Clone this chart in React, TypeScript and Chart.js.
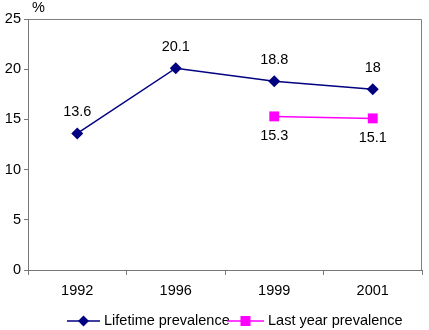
import React, { useEffect, useRef } from "react";
import { Chart, registerables } from "chart.js";

Chart.register(...registerables);

const categories = ["1992", "1996", "1999", "2001"];
const lifetime = [13.6, 20.1, 18.8, 18];
const lastYear = [null, null, 15.3, 15.1];
const seriesNames = ["Lifetime prevalence", "Last year prevalence"];
const yTicks = [0, 5, 10, 15, 20, 25];

const FONT = "Arial, 'Liberation Sans', sans-serif";
const FS = 14.5;
const NAVY = "#000080";
const MAGENTA = "#FF00FF";
const AXIS = "#777777";

const extras = {
  id: "extras",
  afterDraw(chart: any) {
    const ctx = chart.ctx;
    const a = chart.chartArea;
    ctx.save();
    ctx.setLineDash([]);
    // plot area border (top and right; left/bottom come from the axes)
    ctx.strokeStyle = "#7f7f7f";
    ctx.lineWidth = 1;
    ctx.beginPath();
    ctx.moveTo(a.left, a.top + 0.5);
    ctx.lineTo(a.right - 0.5, a.top + 0.5);
    ctx.lineTo(a.right - 0.5, a.bottom);
    ctx.stroke();

    // data labels
    ctx.font = `${FS}px ${FONT}`;
    ctx.fillStyle = "#000";
    ctx.textAlign = "center";
    ctx.textBaseline = "middle";
    chart.data.datasets.forEach((ds: any, di: number) => {
      const meta = chart.getDatasetMeta(di);
      meta.data.forEach((pt: any, i: number) => {
        const v = ds.data[i];
        if (v === null || v === undefined) return;
        const off = di === 0 ? -21 : 20;
        ctx.fillText(String(v), pt.x, pt.y + off);
      });
    });

    // "%" label
    ctx.textAlign = "left";
    ctx.fillText("%", a.left + 4, 8);

    // legend
    const ly = 321;
    const items = [
      { x0: 67, x1: 100, tx: 104, color: NAVY, style: "rectRot", r: 5.5, name: seriesNames[0] },
      { x0: 227, x1: 264, tx: 268, color: MAGENTA, style: "rect", r: 6, name: seriesNames[1] },
    ];
    items.forEach((it) => {
      ctx.strokeStyle = it.color;
      ctx.lineWidth = 1.5;
      ctx.beginPath();
      ctx.moveTo(it.x0, ly);
      ctx.lineTo(it.x1, ly);
      ctx.stroke();
      ctx.fillStyle = it.color;
      const cx = (it.x0 + it.x1) / 2;
      if (it.style === "rectRot") {
        ctx.beginPath();
        ctx.moveTo(cx, ly - it.r);
        ctx.lineTo(cx + it.r, ly);
        ctx.lineTo(cx, ly + it.r);
        ctx.lineTo(cx - it.r, ly);
        ctx.closePath();
        ctx.fill();
      } else {
        ctx.fillRect(cx - 5, ly - 5, 10, 10);
      }
      ctx.fillStyle = "#000";
      ctx.textBaseline = "middle";
      ctx.fillText(it.name, it.tx, ly);
    });
    ctx.restore();
  },
};

export default function App() {
  const ref = useRef<HTMLCanvasElement | null>(null);
  useEffect(() => {
    if (!ref.current) return;
    const chart = new Chart(ref.current, {
      type: "line",
      data: {
        labels: categories,
        datasets: [
          {
            label: seriesNames[0],
            data: lifetime,
            borderColor: NAVY,
            backgroundColor: NAVY,
            borderWidth: 1.5,
            pointStyle: "rectRot",
            pointRadius: 6,
            pointBorderWidth: 0,
            tension: 0,
          },
          {
            label: seriesNames[1],
            data: lastYear as any,
            borderColor: MAGENTA,
            backgroundColor: MAGENTA,
            borderWidth: 1.5,
            pointStyle: "rect",
            pointRadius: 7,
            pointBorderWidth: 0,
            tension: 0,
          },
        ],
      },
      options: {
        animation: false,
        responsive: false,
        maintainAspectRatio: false,
        layout: { padding: { left: 0, right: 4, top: 19, bottom: 26 } },
        plugins: { legend: { display: false }, tooltip: { enabled: false } },
        scales: {
          x: {
            type: "category",
            offset: true,
            grid: { display: true, drawOnChartArea: false, drawTicks: true, tickLength: 5, color: AXIS, offset: true },
            border: { display: true, color: AXIS, width: 1 },
            ticks: { color: "#000", font: { family: FONT, size: FS }, padding: 7 },
            afterFit: (s: any) => {
              s.height = 34;
              s.paddingLeft = 0;
              s.paddingRight = 0;
            },
          },
          y: {
            min: 0,
            max: 25,
            afterBuildTicks: (s: any) => { s.ticks = yTicks.map((v) => ({ value: v })); },
            grid: { display: true, drawOnChartArea: false, drawTicks: true, tickLength: 4, color: AXIS },
            border: { display: true, color: AXIS, width: 1 },
            ticks: { color: "#000", font: { family: FONT, size: FS }, padding: 3 },
            afterFit: (s: any) => {
              s.width = 28;
              s.paddingTop = 0;
              s.paddingBottom = 0;
            },
          },
        },
      },
      plugins: [extras],
    });
    return () => chart.destroy();
  }, []);
  return (
    <div style={{ position: "fixed", left: 0, top: 0, width: 429, height: 330, background: "#fff" }}>
      <canvas ref={ref} width={429} height={330} style={{ display: "block" }} />
    </div>
  );
}
